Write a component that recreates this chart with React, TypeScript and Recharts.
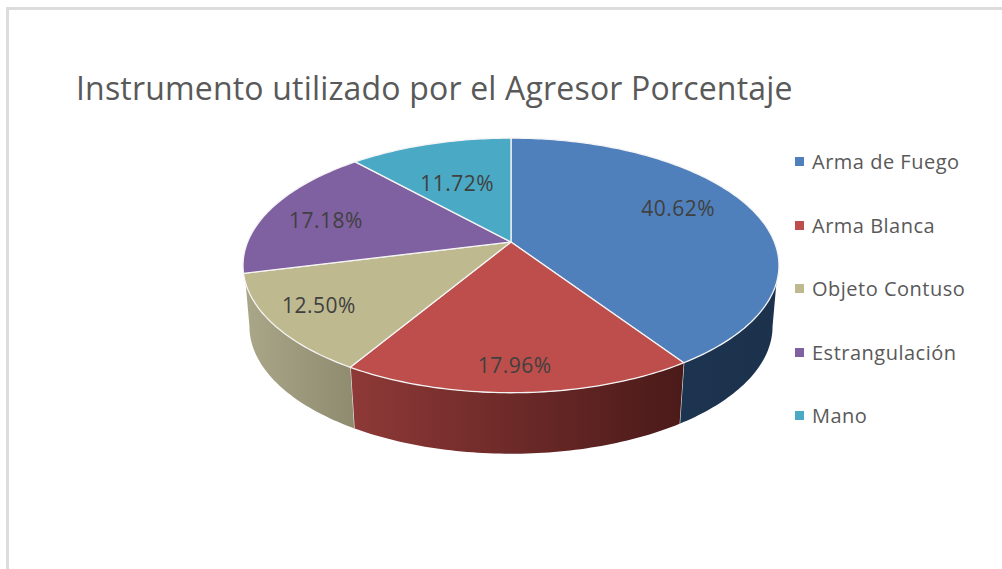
import { PieChart, Pie, Legend } from 'recharts';

// ─── Data ─────────────────────────────────────────────────────────────────────

const categories = ['Arma de Fuego', 'Arma Blanca', 'Objeto Contuso', 'Estrangulación', 'Mano'];
const percentages = [40.62, 17.96, 12.5, 17.18, 11.72];
const topColors = ['#4f80bc', '#bd4e4b', '#bfb98f', '#7f60a0', '#4aa9c4'];
const wallFrom = ['#1d3450', '#8e3937', '#aaa688', '#6a5085', '#3b8aa0'];
const wallTo = ['#1b314c', '#4a1a19', '#8f8b6f', '#5a4472', '#2f7488'];

// Where each label sits on its slice: fraction of the radius, and a small
// shift from the slice's middle angle (the original used best-fit placement).
const labelRadii = [0.729, 0.845, 0.814, 0.751, 0.574];
const labelShifts = [-6.6, 0.6, 1.5, -2.3, -1.9];

const rows = categories.map((name, i) => ({ name, value: percentages[i], fill: topColors[i] }));

// ─── 3D projection ────────────────────────────────────────────────────────────
// The picture is a perspective pie: the apex sits above the ellipse centre,
// so the circle goes through a small projective map instead of a plain squash.

const RX = 263.4;
const RY = 123;
const PERSPECTIVE = 0.184;
const DEPTH = 61;
const FLOOR_SCALE = 0.976;

// Where the wall leaves the rim / the floor outline, clockwise degrees from 12 o'clock
const RIM_FROM = 108.3;
const RIM_TO = 251.7;
const FLOOR_FROM = 100.6;
const FLOOR_TO = 259.4;

const project = (cx: number, cy: number, deg: number, r = 1): [number, number] => {
  const t = (deg * Math.PI) / 180;
  const x = r * Math.sin(t);
  const y = -r * Math.cos(t);
  const w = 1 - PERSPECTIVE * y;
  return [cx + (RX * x) / w, cy + (RY * y) / w];
};

const floorPoint = (cx: number, cy: number, deg: number): [number, number] => {
  const [x, y] = project(cx, cy, deg);
  return [cx + (x - cx) * FLOOR_SCALE, y + DEPTH];
};

const arc = (fn: (deg: number) => [number, number], from: number, to: number) => {
  const steps = Math.max(2, Math.ceil(Math.abs(to - from)));
  const pts: string[] = [];
  for (let i = 0; i <= steps; i++) {
    const [x, y] = fn(from + ((to - from) * i) / steps);
    pts.push(`${x.toFixed(2)} ${y.toFixed(2)}`);
  }
  return pts;
};

function Slice3D(props: any) {
  const { cx, cy, startAngle, endAngle, fill, index } = props;
  const start = 90 - startAngle;
  const end = 90 - endAngle;

  const rim = (d: number) => project(cx, cy, d);
  const floor = (d: number) => floorPoint(cx, cy, d);

  const rimStart = Math.max(start, RIM_FROM);
  const rimEnd = Math.min(end, RIM_TO);
  const hasWall = rimStart < rimEnd;
  const floorStart = start <= RIM_FROM ? FLOOR_FROM : start;
  const floorEnd = end >= RIM_TO ? FLOOR_TO : end;

  const top = `M${cx} ${cy} L${arc(rim, start, end).join(' L')} Z`;
  const wall = hasWall
    ? `M${arc(rim, rimStart, rimEnd).join(' L')} L${arc(floor, floorEnd, floorStart).join(' L')} Z`
    : '';

  // white seam down the wall where this slice ends
  const seam = end > RIM_FROM && end < RIM_TO ? [rim(end), floor(end)] : null;

  return (
    <g>
      {hasWall && <path d={wall} fill={`url(#wall-${index})`} />}
      {seam && (
        <line
          x1={seam[0][0]}
          y1={seam[0][1]}
          x2={seam[1][0]}
          y2={seam[1][1]}
          stroke="#e8e8e8"
          strokeWidth={1.2}
        />
      )}
      <path d={top} fill={fill} stroke="#f4f4f4" strokeWidth={1.3} strokeLinejoin="round" />
    </g>
  );
}

function SliceLabel(props: any) {
  const { cx, cy, midAngle, index } = props;
  const [x, y] = project(cx, cy, 90 - midAngle + labelShifts[index], labelRadii[index]);
  return (
    <text
      x={x}
      y={y}
      textAnchor="middle"
      dominantBaseline="central"
      fontSize={21}
      letterSpacing={0.5}
      fill="#404040"
      fontFamily="'Open Sans', sans-serif"
    >
      {`${percentages[index].toFixed(2)}%`}
    </text>
  );
}

function LegendList({ payload }: any) {
  return (
    <div
      style={{
        fontFamily: "'Open Sans', sans-serif",
        fontSize: 20,
        letterSpacing: 0.5,
        color: '#595959',
      }}
    >
      {(payload ?? []).map((item: any) => (
        <div key={item.value} style={{ display: 'flex', alignItems: 'center', height: 63.5 }}>
          <span style={{ width: 9, height: 9, background: item.color, marginRight: 8 }} />
          <span>{item.value}</span>
        </div>
      ))}
    </div>
  );
}

export default function App() {
  return (
    <div
      style={{
        position: 'absolute',
        left: 0,
        top: 0,
        width: 1002,
        height: 569,
        overflow: 'hidden',
        background: '#ffffff',
      }}
    >
      {/* chart frame, only top and left edges are in the crop */}
      <div
        style={{
          position: 'absolute',
          left: 6,
          top: 7,
          right: 0,
          bottom: 0,
          borderTop: '3px solid #dcdcdc',
          borderLeft: '3px solid #dcdcdc',
        }}
      />
      <div
        style={{
          position: 'absolute',
          left: 76,
          top: 66,
          fontFamily: "'Open Sans', sans-serif",
          fontSize: 32,
          letterSpacing: 0.18,
          lineHeight: '44px',
          color: '#595959',
          whiteSpace: 'nowrap',
        }}
      >
        Instrumento utilizado por el Agresor Porcentaje
      </div>

      <div style={{ position: 'absolute', left: 0, top: 0 }}>
        <PieChart width={1002} height={569} margin={{ top: 0, right: 0, bottom: 0, left: 0 }}>
          <defs>
            {categories.map((_, i) => (
              <linearGradient key={i} id={`wall-${i}`} x1="0" y1="0" x2="1" y2="0">
                <stop offset="0%" stopColor={wallFrom[i]} />
                <stop offset="100%" stopColor={wallTo[i]} />
              </linearGradient>
            ))}
          </defs>
          <Pie
            data={rows}
            dataKey="value"
            nameKey="name"
            cx={511}
            cy={242}
            outerRadius={120}
            startAngle={90}
            endAngle={-270}
            paddingAngle={0}
            stroke="none"
            shape={Slice3D}
            label={SliceLabel}
            labelLine={false}
            isAnimationActive={false}
          />
          <Legend
            content={LegendList}
            layout="vertical"
            itemSorter={null}
            wrapperStyle={{ position: 'absolute', left: 795, top: 130, width: 200 }}
          />
        </PieChart>
      </div>
    </div>
  );
}
